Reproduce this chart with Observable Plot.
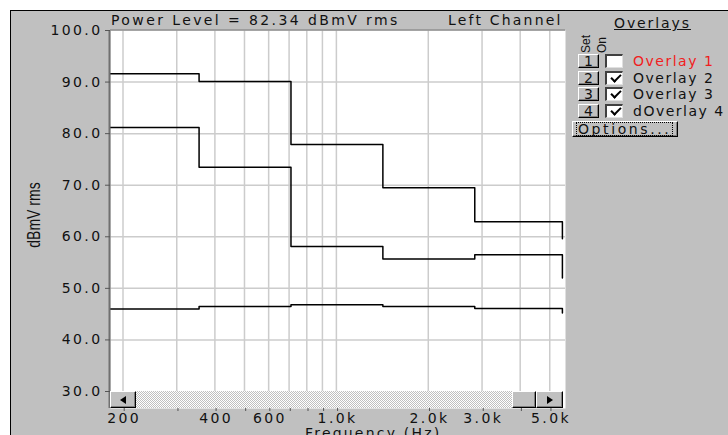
<!DOCTYPE html>
<html><head><meta charset="utf-8">
<script src="https://cdn.jsdelivr.net/npm/d3@7"></script>
<script src="https://cdn.jsdelivr.net/npm/@observablehq/plot@0.6"></script>
<style>
body{margin:0;background:#fff;}
#wrap{position:relative;width:728px;height:435px;overflow:hidden;font-family:"DejaVu Sans",sans-serif;}
#bg{position:absolute;left:10px;top:10px;right:0;bottom:0;background:#c0c0c0;border-top:1px solid #000;border-left:1px solid #000;}
#chart{position:absolute;left:0;top:0;}
#chart svg text{letter-spacing:2.4px;}
.t{position:absolute;font-size:14px;letter-spacing:2.4px;color:#111;white-space:nowrap;line-height:14px;}
.btn{position:absolute;background:#c0c0c0;box-sizing:border-box;border-top:1px solid #fff;border-left:1px solid #fff;border-right:1px solid #000;border-bottom:1px solid #000;box-shadow:inset -1px -1px 0 #808080;}
.cb{position:absolute;background:#fff;box-sizing:border-box;border-top:2px solid #404040;border-left:2px solid #404040;border-right:1px solid #e0e0e0;border-bottom:1px solid #e0e0e0;}
.chk{position:absolute;left:4px;top:1px;width:8px;height:4px;border-left:2.5px solid #000;border-bottom:2.5px solid #000;transform:rotate(-45deg);}
#sb{position:absolute;left:110px;top:391px;width:453px;height:17px;background:repeating-conic-gradient(#c0c0c0 0 25%,#ffffff 0 50%) 0 0/2px 2px;}
.tri{position:absolute;width:0;height:0;}
</style></head>
<body>
<div id="wrap">
<div id="bg"></div>
<div id="chart"></div>
<div class="t" style="left:111px;top:13px;">Power Level = 82.34 dBmV rms</div>
<div class="t" style="left:448px;top:13px;letter-spacing:2.2px;">Left Channel</div>
<div class="t" style="left:614px;top:16px;letter-spacing:1.9px;text-decoration:underline;">Overlays</div>
<div class="t" style="left:577px;top:37px;font-family:'Liberation Sans',Arial,sans-serif;font-size:12px;letter-spacing:0;transform:rotate(-90deg);transform-origin:9px 7px;">Set</div>
<div class="t" style="left:594px;top:38px;font-family:'Liberation Sans',Arial,sans-serif;font-size:12px;letter-spacing:0;transform:rotate(-90deg);transform-origin:8px 7px;">On</div>
<div id="panel"></div>
<div id="sb">
  <div class="btn" style="left:0;top:0;width:26px;height:17px;"><div class="tri" style="left:9px;top:4px;border-top:4px solid transparent;border-bottom:4px solid transparent;border-right:6px solid #000;"></div></div>
  <div class="btn" style="left:402px;top:0;width:24px;height:17px;"></div>
  <div class="btn" style="left:426px;top:0;width:27px;height:17px;"><div class="tri" style="left:10px;top:4px;border-top:4px solid transparent;border-bottom:4px solid transparent;border-left:6px solid #000;"></div></div>
</div>
<div class="t" style="left:305px;top:426px;letter-spacing:2.2px;">Frequency (Hz)</div>
<div class="t" style="left:-22px;top:208px;font-family:'Liberation Sans',Arial,sans-serif;letter-spacing:0;transform:rotate(-90deg) scaleY(1.35);transform-origin:55px 7px;width:110px;text-align:center;">dBmV rms</div>
</div>
<script>
// ---- data ----
const bandEdges = [177, 355, 710, 1420, 2840, 5500];
const overlay2 = [91.6, 90.1, 77.9, 69.5, 62.9];
const overlay2End = 59.6;
const overlay3 = [81.2, 73.5, 58.1, 55.7, 56.5];
const overlay3End = 52.0;
const overlay4 = [46.0, 46.5, 46.8, 46.5, 46.1];
const overlay4End = 45.2;
const gridFreqs = [200, 300, 400, 500, 600, 700, 800, 900, 1000, 2000, 3000, 4000, 5000];
const xTickLabels = {200: "200", 400: "400", 600: "600", 1000: "1.0k", 2000: "2.0k", 3000: "3.0k", 5000: "5.0k"};
const yTicks = [30, 40, 50, 60, 70, 80, 90, 100];
const overlayNames = ["Overlay 1", "Overlay 2", "Overlay 3", "dOverlay 4"];
const overlayOn = [false, true, true, true];

function steps(name, vals, endVal) {
  const pts = vals.map((v, i) => ({s: name, f: bandEdges[i], v}));
  pts.push({s: name, f: bandEdges[bandEdges.length - 1], v: vals[vals.length - 1]});
  pts.push({s: name, f: bandEdges[bandEdges.length - 1], v: endVal});
  return pts;
}
const lineData = [
  ...steps("Overlay 2", overlay2, overlay2End),
  ...steps("Overlay 3", overlay3, overlay3End),
  ...steps("dOverlay 4", overlay4, overlay4End)
];

const chart = Plot.plot({
  width: 728, height: 435,
  marginLeft: 110, marginRight: 163, marginTop: 30, marginBottom: 27,
  style: {background: "transparent", fontFamily: "'DejaVu Sans', sans-serif", fontSize: "14px", color: "#111"},
  x: {type: "log", domain: [182, 5630]},
  y: {domain: [30, 100], range: [391, 30]},
  marks: [
    Plot.frame({fill: "white"}),
    Plot.ruleY(yTicks.slice(1, -1), {stroke: "#cccccc", strokeWidth: 1.5}),
    Plot.ruleX(gridFreqs, {y1: 30, y2: 100, stroke: "#cccccc", strokeWidth: 1.5}),
    Plot.line(lineData, {x: "f", y: "v", z: "s", curve: "step-after", stroke: "#000", strokeWidth: 1.5, clip: true}),
    Plot.ruleX([182], {stroke: "#707070", strokeWidth: 2, dx: -1}),
    Plot.ruleY([100], {stroke: "#909090", strokeWidth: 1.5, dy: -0.5}),
    Plot.axisY({ticks: yTicks, tickFormat: d => d.toFixed(1), tickSize: 5, tickPadding: 3, label: null, stroke: "#555"}),
    Plot.axisX({ticks: gridFreqs, tickFormat: d => xTickLabels[d] || "", tickSize: 3, tickPadding: 2, label: null, dx: 1.2, stroke: "#555"})
  ]
});
document.getElementById("chart").appendChild(chart);

// ---- overlay panel ----
const panel = document.getElementById("panel");
overlayNames.forEach((name, i) => {
  const top = 54 + i * 16.7;
  const b = document.createElement("div");
  b.className = "btn";
  b.style.cssText = `left:578px;top:${top}px;width:21px;height:14px;`;
  const bt = document.createElement("div");
  bt.className = "t";
  bt.style.cssText = "left:5px;top:-1px;letter-spacing:0;font-size:14px;";
  bt.textContent = String(i + 1);
  b.appendChild(bt);
  panel.appendChild(b);
  const c = document.createElement("div");
  c.className = "cb";
  c.style.cssText = `left:605px;top:${top}px;width:18px;height:14px;`;
  if (overlayOn[i]) { const k = document.createElement("div"); k.className = "chk"; c.appendChild(k); }
  panel.appendChild(c);
  const l = document.createElement("div");
  l.className = "t";
  l.style.cssText = `left:633px;top:${top}px;letter-spacing:1.5px;color:${i === 0 ? "#f02020" : "#111"};`;
  l.textContent = name;
  panel.appendChild(l);
});
const ob = document.createElement("div");
ob.className = "btn";
ob.style.cssText = "left:572px;top:121px;width:106px;height:16px;";
const ot = document.createElement("div");
ot.className = "t";
ot.style.cssText = "left:3px;top:0px;letter-spacing:2.6px;border:1px dotted #000;padding:0 1px;line-height:12px;";
ot.textContent = "Options...";
ob.appendChild(ot);
panel.appendChild(ob);
</script>
</body></html>
